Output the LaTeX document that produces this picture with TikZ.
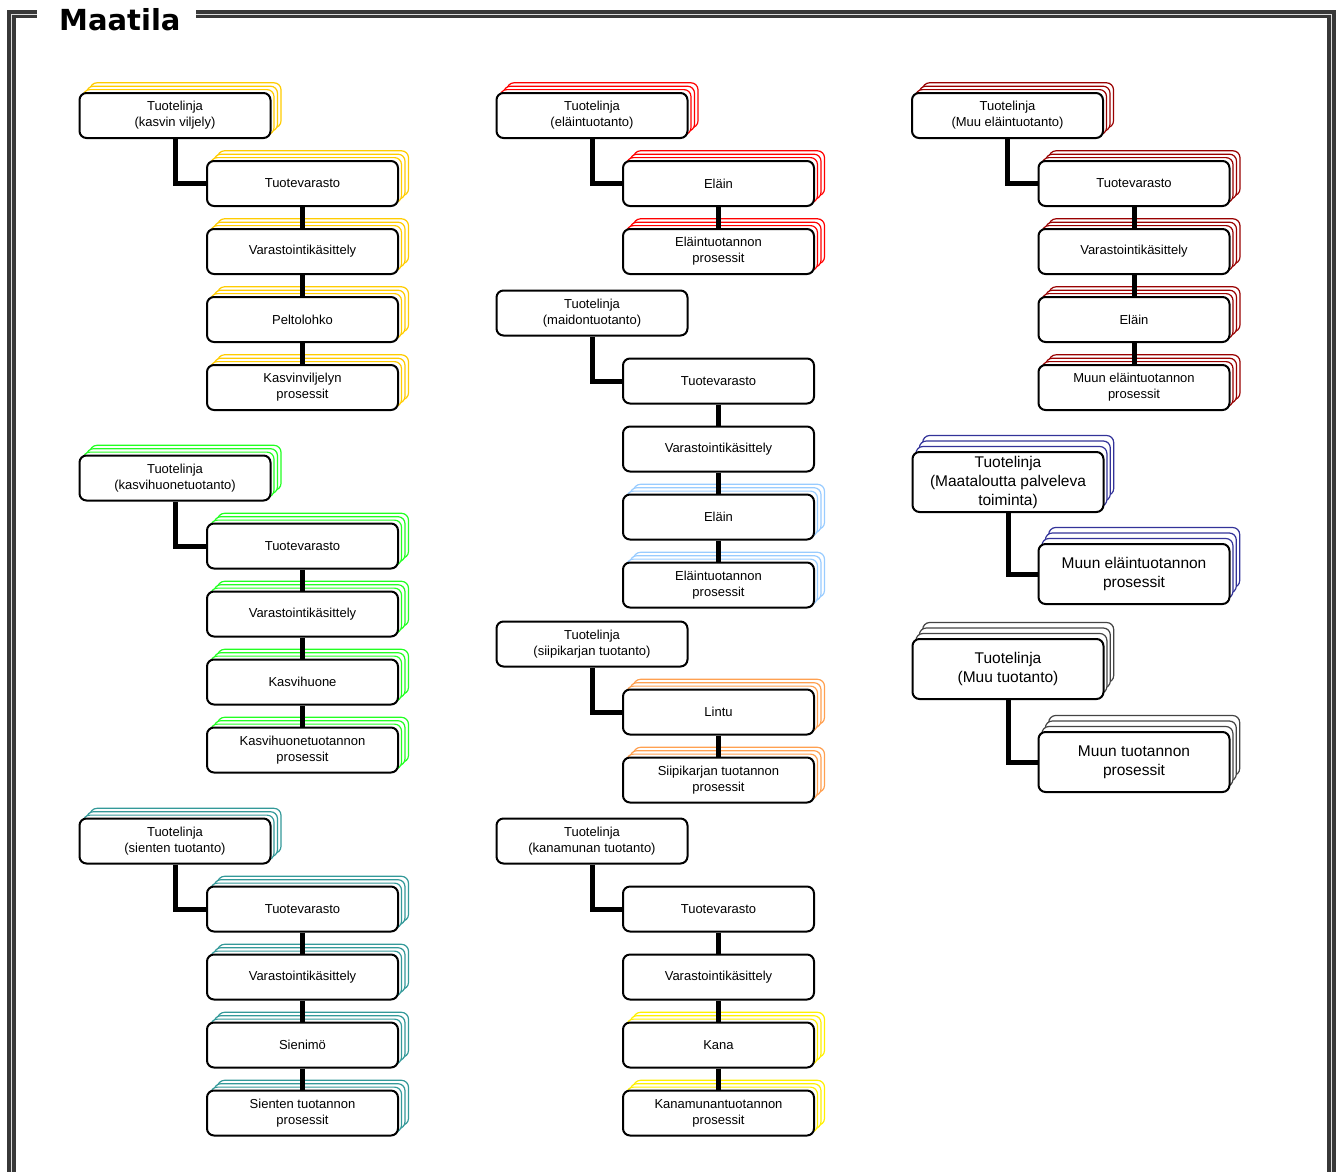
\documentclass[tikz,border=0pt]{standalone}
\usepackage{fontspec}
\setmainfont{Liberation Sans}
\newfontfamily\titlefont{DejaVu Sans}
\definecolor{cgold}{HTML}{FFCC00}
\definecolor{cgreen}{HTML}{22FF22}
\definecolor{cteal}{HTML}{339999}
\definecolor{cred}{HTML}{FF0000}
\definecolor{clblue}{HTML}{99CCFF}
\definecolor{corange}{HTML}{FFA050}
\definecolor{cyellow}{HTML}{FFF000}
\definecolor{cdred}{HTML}{990000}
\definecolor{cnavy}{HTML}{333399}
\definecolor{cgray}{HTML}{444444}
\definecolor{cframe}{HTML}{383838}
\definecolor{cgap}{HTML}{DDDDDD}
\tikzset{
  boxf/.style={draw=black, line width=2pt, fill=white, rounded corners=7pt, inner sep=0pt, align=center},
  copyb/.style={draw=#1, line width=1.2pt, fill=white, rounded corners=7pt, inner sep=0pt},
  conn/.style={line width=5pt, black},
  smalltxt/.style={font=\fontsize{13}{16}\selectfont},
  bigtxt/.style={font=\fontsize{15.5}{19}\selectfont}
}
% #1 name, #2 cx, #3 cy, #4 color, #5 text
\newcommand\stkbox[5]{%
  \foreach \k in {3,2,1}{\node[copyb=#4, minimum width=191pt, minimum height=45pt] at ({#2+3.5*\k},{#3-3.4*\k}) {};}
  \node[boxf, smalltxt, minimum width=191pt, minimum height=45pt] (#1) at (#2,#3) {#5};}
\newcommand\plnbox[4]{%
  \node[boxf, smalltxt, minimum width=191pt, minimum height=45pt] (#1) at (#2,#3) {#4};}
\newcommand\bigstk[5]{%
  \foreach \k in {3,2,1}{\node[copyb=#4, minimum width=191pt, minimum height=60pt] at ({#2+3.4*\k},{#3-5.5*\k}) {};}
  \node[boxf, bigtxt, minimum width=191pt, minimum height=60pt] (#1) at (#2,#3) {#5};}
\begin{document}
\begin{tikzpicture}[x=1pt,y=-1pt]
\useasboundingbox (0,0) rectangle (1341,1171);
% frame
\draw[line width=8.5pt, cframe, line join=miter] (196,14) -- (1331.5,14) -- (1331.5,1190) -- (11.5,1190) -- (11.5,14) -- (37,14);
\draw[line width=0.9pt, cgap, line join=miter] (196,14) -- (1331.5,14) -- (1331.5,1190) -- (11.5,1190) -- (11.5,14) -- (37,14);
\node[anchor=base west, inner sep=0pt, font=\titlefont\bfseries\fontsize{29}{30}\selectfont] (title) at (59,30.5) {Maatila};
% column 1
\stkbox{p1}{175}{115.5}{cgold}{Tuotelinja\\(kasvin viljely)}
\stkbox{a1}{302.5}{183.5}{cgold}{Tuotevarasto}
\stkbox{a2}{302.5}{251.5}{cgold}{Varastointikäsittely}
\stkbox{a3}{302.5}{319.5}{cgold}{Peltolohko}
\stkbox{a4}{302.5}{387.5}{cgold}{Kasvinviljelyn\\prosessit}
\stkbox{p2}{175}{478}{cgreen}{Tuotelinja\\(kasvihuonetuotanto)}
\stkbox{b1}{302.5}{546}{cgreen}{Tuotevarasto}
\stkbox{b2}{302.5}{614}{cgreen}{Varastointikäsittely}
\stkbox{b3}{302.5}{682}{cgreen}{Kasvihuone}
\stkbox{b4}{302.5}{750}{cgreen}{Kasvihuonetuotannon\\prosessit}
\stkbox{p3}{175}{841}{cteal}{Tuotelinja\\(sienten tuotanto)}
\stkbox{c1}{302.5}{909}{cteal}{Tuotevarasto}
\stkbox{c2}{302.5}{977}{cteal}{Varastointikäsittely}
\stkbox{c3}{302.5}{1045}{cteal}{Sienimö}
\stkbox{c4}{302.5}{1113}{cteal}{Sienten tuotannon\\prosessit}
% column 2
\stkbox{p4}{592}{115.5}{cred}{Tuotelinja\\(eläintuotanto)}
\stkbox{d1}{718.5}{183.5}{cred}{Eläin}
\stkbox{d2}{718.5}{251.5}{cred}{Eläintuotannon\\prosessit}
\plnbox{p5}{592}{313}{Tuotelinja\\(maidontuotanto)}
\plnbox{e1}{718.5}{381}{Tuotevarasto}
\plnbox{e2}{718.5}{449}{Varastointikäsittely}
\stkbox{e3}{718.5}{517}{clblue}{Eläin}
\stkbox{e4}{718.5}{585}{clblue}{Eläintuotannon\\prosessit}
\plnbox{p6}{592}{644}{Tuotelinja\\(siipikarjan tuotanto)}
\stkbox{f1}{718.5}{712}{corange}{Lintu}
\stkbox{f2}{718.5}{780}{corange}{Siipikarjan tuotannon\\prosessit}
\plnbox{p7}{592}{841}{Tuotelinja\\(kanamunan tuotanto)}
\plnbox{g1}{718.5}{909}{Tuotevarasto}
\plnbox{g2}{718.5}{977}{Varastointikäsittely}
\stkbox{g3}{718.5}{1045}{cyellow}{Kana}
\stkbox{g4}{718.5}{1113}{cyellow}{Kanamunantuotannon\\prosessit}
% column 3
\stkbox{p8}{1007.5}{115.5}{cdred}{Tuotelinja\\(Muu eläintuotanto)}
\stkbox{h1}{1134}{183.5}{cdred}{Tuotevarasto}
\stkbox{h2}{1134}{251.5}{cdred}{Varastointikäsittely}
\stkbox{h3}{1134}{319.5}{cdred}{Eläin}
\stkbox{h4}{1134}{387.5}{cdred}{Muun eläintuotannon\\prosessit}
\bigstk{p9}{1008}{482}{cnavy}{Tuotelinja\\(Maataloutta palveleva\\toiminta)}
\bigstk{i1}{1134}{574}{cnavy}{Muun eläintuotannon\\prosessit}
\bigstk{p10}{1008}{669}{cgray}{Tuotelinja\\(Muu tuotanto)}
\bigstk{j1}{1134}{762}{cgray}{Muun tuotannon\\prosessit}
% connectors
\draw[conn] (p1.south) |- (a1.west);
\draw[conn] (a1.south) -- (a2.north);
\draw[conn] (a2.south) -- (a3.north);
\draw[conn] (a3.south) -- (a4.north);
\draw[conn] (p2.south) |- (b1.west);
\draw[conn] (b1.south) -- (b2.north);
\draw[conn] (b2.south) -- (b3.north);
\draw[conn] (b3.south) -- (b4.north);
\draw[conn] (p3.south) |- (c1.west);
\draw[conn] (c1.south) -- (c2.north);
\draw[conn] (c2.south) -- (c3.north);
\draw[conn] (c3.south) -- (c4.north);
\draw[conn] (p4.south) |- (d1.west);
\draw[conn] (d1.south) -- (d2.north);
\draw[conn] (p5.south) |- (e1.west);
\draw[conn] (e1.south) -- (e2.north);
\draw[conn] (e2.south) -- (e3.north);
\draw[conn] (e3.south) -- (e4.north);
\draw[conn] (p6.south) |- (f1.west);
\draw[conn] (f1.south) -- (f2.north);
\draw[conn] (p7.south) |- (g1.west);
\draw[conn] (g1.south) -- (g2.north);
\draw[conn] (g2.south) -- (g3.north);
\draw[conn] (g3.south) -- (g4.north);
\draw[conn] (p8.south) |- (h1.west);
\draw[conn] (h1.south) -- (h2.north);
\draw[conn] (h2.south) -- (h3.north);
\draw[conn] (h3.south) -- (h4.north);
\draw[conn] (p9.south) |- (i1.west);
\draw[conn] (p10.south) |- (j1.west);
\end{tikzpicture}
\end{document}
